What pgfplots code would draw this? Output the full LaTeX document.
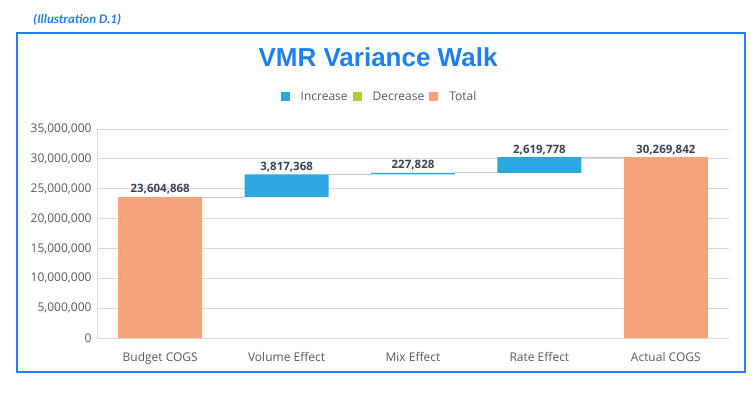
\documentclass[border=0pt]{standalone}
\usepackage{pgfplots}
\pgfplotsset{compat=1.18}
\usepackage{pgfplotstable}
\usepackage{fontspec}
\setmainfont{Open Sans}
\newfontfamily\titlefont{Liberation Sans}
\newfontfamily\illfont{Carlito}
\definecolor{inc}{HTML}{2CA7E0}
\definecolor{dec}{HTML}{B1CB3D}
\definecolor{tot}{HTML}{F7A47D}
\definecolor{ttl}{HTML}{1F7FEF}
\definecolor{frm}{HTML}{2480EA}
\definecolor{lbl}{HTML}{394455}
\definecolor{tck}{HTML}{595959}
\definecolor{grd}{HTML}{D9D9D9}
\pgfplotstableread[col sep=comma]{
x,base,inc,tot
0,0,0,23604868
1,23604868,3817368,0
2,27422236,227828,0
3,27650064,2619778,0
4,0,0,30269842
}\wf
\begin{document}
\begin{tikzpicture}[x=1bp,y=1bp]
\path[use as bounding box] (0,0) rectangle (754,392);
\draw[frm, line width=2.4bp] (17,359) rectangle (745,20);
\node[anchor=west, inner sep=0pt, text=frm] at (33,372) {\illfont\fontsize{13bp}{15bp}\selectfont\bfseries\itshape (Illustration D.1)};
\node[text=ttl, inner sep=0pt] at (378,335) {\titlefont\fontsize{26bp}{30bp}\selectfont\bfseries VMR Variance Walk};
\begin{axis}[
  at={(97bp,54bp)}, anchor=south west,
  scale only axis, width=632bp, height=209bp,
  ybar stacked, bar width=84bp,
  xmin=-0.5, xmax=4.5, ymin=0, ymax=35000000,
  ytick={0,5000000,...,35000000},
  xtick={0,1,2,3,4},
  xticklabels={Budget COGS, Volume Effect, Mix Effect, Rate Effect, Actual COGS},
  scaled y ticks=false,
  /pgf/number format/.cd, fixed, 1000 sep={,}, precision=0, assume math mode=true,
  /pgfplots/.cd,
  major tick length=0pt,
  ymajorgrids, grid style={grd, line width=0.8bp},
  axis x line*=bottom, axis y line*=left,
  axis line style={grd, line width=0.8bp, -},
  tick label style={font=\fontsize{12bp}{14bp}\selectfont, text=tck},
  xticklabel style={yshift=-11bp},
  yticklabel style={xshift=-2bp},
  legend style={at={(0.5,1)}, anchor=center, xshift=-32bp, yshift=32bp, draw=none, fill=none,
    legend columns=-1, font=\fontsize{12bp}{14bp}\selectfont, text=tck,
    nodes={inner xsep=5bp},
    /tikz/every odd column/.append style={column sep=6bp}},
  legend image code/.code={\fill[#1] (0bp,-4.5bp) rectangle (9bp,4.5bp);},
]
\addplot[draw=none, fill=none, forget plot] table[x=x, y=base] {\wf};
\addplot[fill=inc, draw=none] table[x=x, y=inc] {\wf};
\addlegendentry{Increase}
\addlegendimage{fill=dec, draw=none}
\addlegendentry{Decrease}
\addplot[fill=tot, draw=none] table[x=x, y=tot] {\wf};
\addlegendentry{Total}
\end{axis}
\begin{axis}[
  at={(97bp,54bp)}, anchor=south west,
  scale only axis, width=632bp, height=209bp,
  xmin=-0.5, xmax=4.5, ymin=0, ymax=35000000,
  hide axis,
]
\addplot[grd!80!gray, line width=0.8bp] coordinates {(0.332,23604868) (0.668,23604868)};
\addplot[grd!80!gray, line width=0.8bp] coordinates {(1.332,27422236) (1.668,27422236)};
\addplot[grd!80!gray, line width=0.8bp] coordinates {(2.332,27650064) (2.668,27650064)};
\addplot[grd!80!gray, line width=0.8bp] coordinates {(3.332,30269842) (3.668,30269842)};
\addplot[draw=none, mark=none, point meta=explicit symbolic, nodes near coords,
  every node near coord/.append style={font=\fontsize{11.5bp}{13bp}\selectfont\bfseries, text=lbl, anchor=south, inner sep=2.5bp}]
  coordinates {(0,23604868) [{23,604,868}] (1,27422236) [{3,817,368}] (2,27650064) [{227,828}] (3,30269842) [{2,619,778}] (4,30269842) [{30,269,842}]};
\end{axis}
\end{tikzpicture}
\end{document}
